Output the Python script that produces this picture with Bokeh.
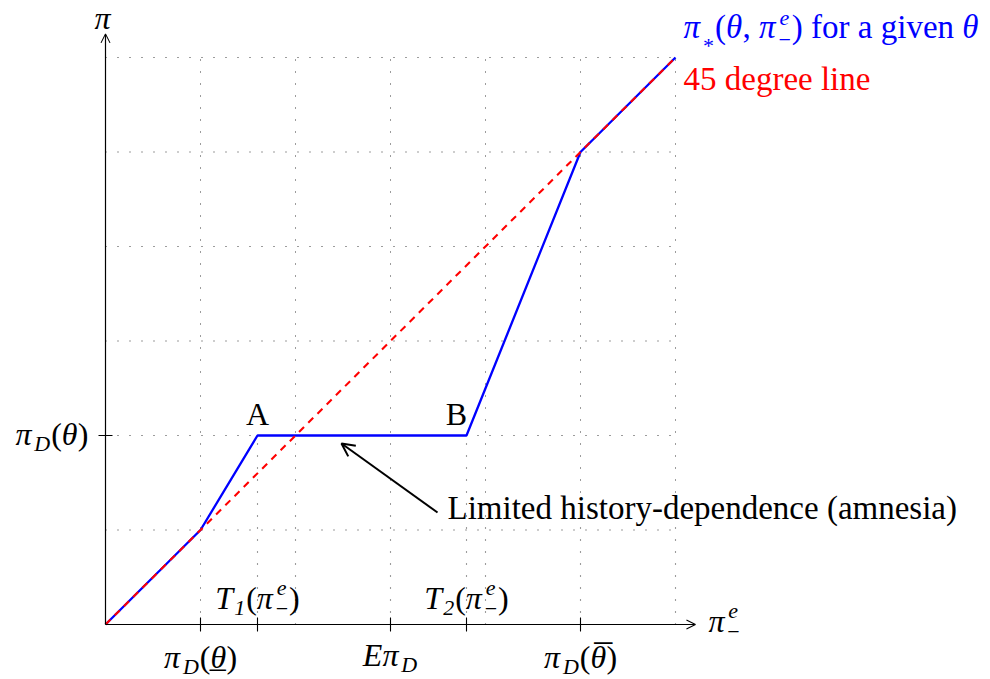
import numpy as np
from bokeh.plotting import figure
from bokeh.models import ColumnDataSource, Range1d, Arrow, OpenHead
from bokeh.core.properties import value
from bokeh.embed import file_html
from bokeh.resources import INLINE

# ---------------- data ----------------
grid_steps = [1, 2, 3, 4, 5, 6]
grid_max = 6
kink_x = [0, 1, 1.6, 3.8, 5, 6]          # pi^e_-
kink_y = [0, 1, 2, 2, 5, 6]              # pi_*(theta, pi^e_-)
diag_x = [0, 6]
diag_y = [0, 6]
low_drops = [1.6, 3.8]                   # T1, T2 (dotted drop lines up to pi_D(theta))
x_ticks = [1, 1.6, 3, 3.8, 5]
y_tick = 2
x_axis_end = 6.21
y_axis_end = 6.25

FONT = "Liberation Serif"
MAIN = 32
TEXT = 33
SCRIPT = 22
BASE_FIX = 0.37   # renderer places alphabetic baseline ~0.37em low

W = {"π": 0.56, "θ": 0.50, "D": 0.72, "E": 0.61, "T": 0.56, "A": 0.72, "B": 0.67,
     "L": 0.611, "(": 0.333, ")": 0.333, ",": 0.25, "-": 0.333, "1": 0.5, "2": 0.5,
     "4": 0.5, "5": 0.5, "−": 0.564, "*": 0.5, " ": 0.25, "_": 0.5, "¯": 0.333,
     "a": .444, "b": .5, "c": .444, "d": .5, "e": .444, "f": .333, "g": .5, "h": .5,
     "i": .278, "j": .278, "k": .5, "l": .278, "m": .778, "n": .5, "o": .5, "p": .5,
     "q": .5, "r": .333, "s": .389, "t": .278, "u": .5, "v": .5, "w": .722, "x": .5,
     "y": .5, "z": .444}


def tw(s, size):
    return sum(W.get(c, 0.5) for c in s) * size


def math_label(p, x, y, tokens, color="black", align="left", dx=0, dy=0,
               size=MAIN, ssize=SCRIPT):
    texts, xo, yo, sizes, styles = [], [], [], [], []

    def put(s, ox, oy, sz, st):
        texts.append(s); xo.append(ox); yo.append(oy - BASE_FIX * sz)
        sizes.append(f"{sz}px"); styles.append(st)

    cur = 0.0
    for tok in tokens:
        kind = tok[0]
        if kind in ("r", "i"):
            s = tok[1]
            put(s, cur, 0, size, "italic" if kind == "i" else "normal")
            cur += tw(s, size)
        elif kind == "ubar":          # underlined symbol
            s = tok[1]
            put(s, cur, 0, size, "italic")
            put("_", cur - 0.02 * size, -0.02 * size, size, "normal")
            cur += tw(s, size)
        elif kind == "obar":          # overlined symbol
            s = tok[1]
            put(s, cur, 0, size, "italic")
            bsz = int(round(size * 1.12))
            put("¯", cur + 0.12 * size, 0.1 * size, bsz, "normal")
            cur += tw(s, size)
        elif kind == "sub":
            s = tok[1]
            down = 0.42 * size if s == "*" else 0.2 * size
            put(s, cur + 1, down, ssize, "normal" if s == "*" else "italic")
            cur += tw(s, ssize) + 2
        elif kind == "subsup":
            sb, sp = tok[1], tok[2]
            put(sp, cur + 2, -0.42 * size, ssize, "italic")
            put(sb, cur + 1, 0.25 * size, ssize, "normal")
            cur += max(tw(sb, ssize), tw(sp, ssize)) + 2
    total = cur
    shift = {"left": 0.0, "center": -total / 2, "right": -total}[align]
    n = len(texts)
    src = ColumnDataSource(dict(
        x=[x] * n, y=[y] * n, text=texts,
        xo=[v + shift + dx for v in xo], yo=[v + dy for v in yo],
        size=sizes, style=styles))
    p.text(x="x", y="y", text="text", x_offset="xo", y_offset="yo",
           text_font_size="size", text_font_style="style",
           text_font=value(FONT), text_color=color,
           text_align="left", text_baseline="alphabetic", source=src)


# ---------------- figure ----------------
WIDTH, HEIGHT = 990, 679
OX, OY = 105.0, 624.0         # origin in figure pixels
SX, SY = 95.0, 94.5           # pixels per unit

p = figure(width=WIDTH, height=HEIGHT, output_backend="svg", toolbar_location=None,
           x_axis_location=None, y_axis_location=None, min_border=0,
           x_range=Range1d(-OX / SX, (WIDTH - OX) / SX),
           y_range=Range1d((OY - HEIGHT) / SY, OY / SY))
p.outline_line_color = None
p.background_fill_color = "white"
p.border_fill_color = "white"
p.xgrid.visible = False
p.ygrid.visible = False

# dotted grid
gx0 = [g for g in grid_steps] + [0 for g in grid_steps] + low_drops
gx1 = [g for g in grid_steps] + [grid_max for g in grid_steps] + low_drops
gy0 = [0 for g in grid_steps] + [g for g in grid_steps] + [0 for g in low_drops]
gy1 = [grid_max for g in grid_steps] + [g for g in grid_steps] + [y_tick for g in low_drops]
p.segment(x0=gx0, y0=gy0, x1=gx1, y1=gy1, line_color="#3a3a3a",
          line_width=1.1, line_dash="1 11")

# curves
p.line(kink_x, kink_y, line_color="#0000ff", line_width=2.3)
p.line(diag_x, diag_y, line_color="#ff0000", line_width=2.1, line_dash="7 6")

# axes
p.add_layout(Arrow(end=OpenHead(size=9, line_width=1.1, line_color="black"),
                   x_start=0, y_start=0, x_end=x_axis_end, y_end=0,
                   line_width=1.2, line_color="black"))
p.add_layout(Arrow(end=OpenHead(size=9, line_width=1.1, line_color="black"),
                   x_start=0, y_start=0, x_end=0, y_end=y_axis_end,
                   line_width=1.2, line_color="black"))
p.scatter(x=x_ticks, y=[0] * len(x_ticks), marker="dash", size=14,
          angle=np.pi / 2, line_color="black", line_width=1.1)
p.scatter(x=[0], y=[y_tick], marker="dash", size=14, line_color="black",
          line_width=1.1)

# annotation arrow
p.add_layout(Arrow(end=OpenHead(size=13, line_width=2, line_color="black"),
                   x_start=3.495, y_start=1.185, x_end=2.484, y_end=1.915,
                   line_width=2, line_color="black"))

# labels
math_label(p, 0, y_axis_end, [("i", "π")], align="center", dx=-2, dy=-4)
math_label(p, x_axis_end, 0, [("i", "π"), ("subsup", "−", "e")], dx=13, dy=8)
math_label(p, 0, y_tick, [("i", "π"), ("sub", "D"), ("r", "("), ("i", "θ"), ("r", ")")],
           align="right", dx=-17, dy=10)
math_label(p, x_ticks[0], 0, [("i", "π"), ("sub", "D"), ("r", "("), ("ubar", "θ"), ("r", ")")],
           align="center", dy=44)
math_label(p, x_ticks[2], 0, [("i", "E"), ("i", "π"), ("sub", "D")], align="center", dy=42)
math_label(p, x_ticks[4], 0, [("i", "π"), ("sub", "D"), ("r", "("), ("obar", "θ"), ("r", ")")],
           align="center", dy=44)
math_label(p, x_ticks[1], 0, [("i", "T"), ("sub", "1"), ("r", "("), ("i", "π"),
                              ("subsup", "−", "e"), ("r", ")")], align="center", dy=-15)
math_label(p, x_ticks[3], 0, [("i", "T"), ("sub", "2"), ("r", "("), ("i", "π"),
                              ("subsup", "−", "e"), ("r", ")")], align="center", dy=-15)
math_label(p, kink_x[2], kink_y[2], [("r", "A")], align="center", dx=0, dy=-10)
math_label(p, kink_x[3], kink_y[3], [("r", "B")], align="center", dx=-10, dy=-10)
math_label(p, 3.495, 1.185, [("r", "Limited history-dependence (amnesia)")], dx=10, dy=8,
           size=TEXT)
math_label(p, diag_x[1], diag_y[1],
           [("i", "π"), ("sub", "*"), ("r", "("), ("i", "θ"), ("r", ", "), ("i", "π"),
            ("subsup", "−", "e"), ("r", ") for a given "), ("i", "θ")],
           color="#0000ff", dx=8, dy=-18, size=TEXT)
math_label(p, diag_x[1], diag_y[1], [("r", "45 degree line")], color="#ff0000", dx=8, dy=34,
           size=TEXT)

open("out.html", "w").write(file_html(p, INLINE))
